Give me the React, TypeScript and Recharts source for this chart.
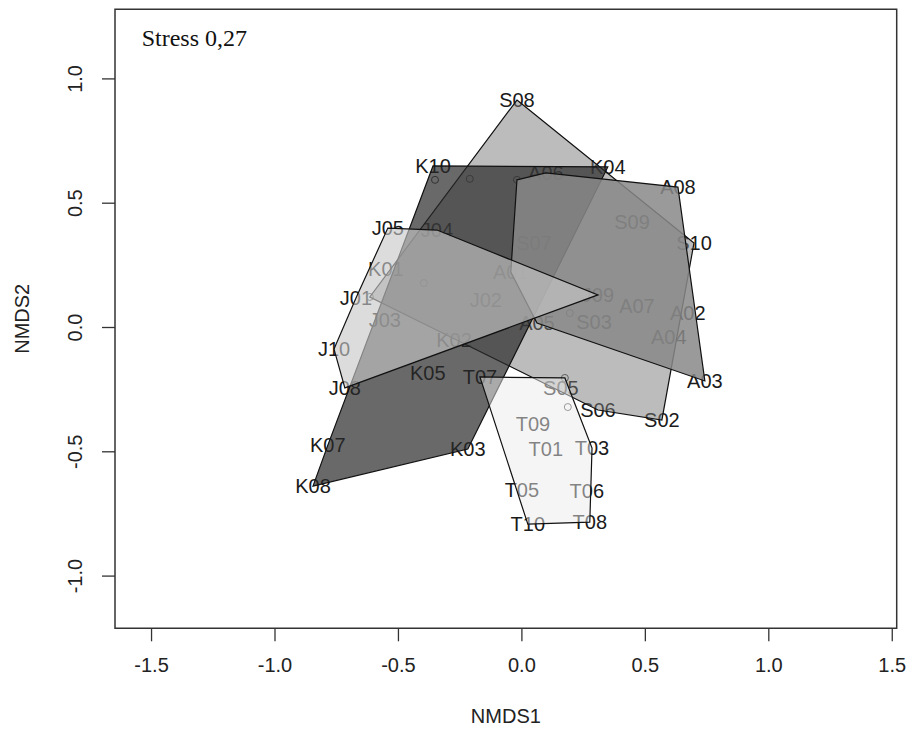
import { ScatterChart, Scatter, XAxis, YAxis, ReferenceArea, Label } from "recharts";

// NMDS site scores, one array per group
const sitesA = [
  { id: "A01", x: -0.045, y: 0.223 },
  { id: "A02", x: 0.672, y: 0.058 },
  { id: "A03", x: 0.741, y: -0.215 },
  { id: "A04", x: 0.595, y: -0.038 },
  { id: "A05", x: 0.061, y: 0.018 },
  { id: "A06", x: 0.097, y: 0.622 },
  { id: "A07", x: 0.466, y: 0.087 },
  { id: "A08", x: 0.632, y: 0.565 },
  { id: "A09", x: -0.02, y: 0.594 }
];
const sitesJ = [
  { id: "J01", x: -0.672, y: 0.119 },
  { id: "J02", x: -0.146, y: 0.111 },
  { id: "J03", x: -0.555, y: 0.03 },
  { id: "J04", x: -0.344, y: 0.392 },
  { id: "J05", x: -0.543, y: 0.4 },
  { id: "J06", x: -0.397, y: 0.179 },
  { id: "J08", x: -0.717, y: -0.243 },
  { id: "J09", x: 0.308, y: 0.131 },
  { id: "J10", x: -0.761, y: -0.087 }
];
const sitesK = [
  { id: "K01", x: -0.551, y: 0.235 },
  { id: "K02", x: -0.275, y: -0.05 },
  { id: "K03", x: -0.219, y: -0.489 },
  { id: "K04", x: 0.348, y: 0.646 },
  { id: "K05", x: -0.381, y: -0.183 },
  { id: "K06", x: -0.211, y: 0.598 },
  { id: "K07", x: -0.786, y: -0.473 },
  { id: "K08", x: -0.846, y: -0.638 },
  { id: "K09", x: -0.352, y: 0.594 },
  { id: "K10", x: -0.36, y: 0.65 }
];
const sitesS = [
  { id: "S01", x: -0.616, y: 0.123 },
  { id: "S02", x: 0.567, y: -0.372 },
  { id: "S03", x: 0.292, y: 0.022 },
  { id: "S04", x: 0.194, y: 0.058 },
  { id: "S05", x: 0.158, y: -0.243 },
  { id: "S06", x: 0.308, y: -0.332 },
  { id: "S07", x: 0.049, y: 0.34 },
  { id: "S08", x: -0.02, y: 0.915 },
  { id: "S09", x: 0.446, y: 0.425 },
  { id: "S10", x: 0.697, y: 0.34 }
];
const sitesT = [
  { id: "T01", x: 0.097, y: -0.489 },
  { id: "T02", x: 0.186, y: -0.32 },
  { id: "T03", x: 0.284, y: -0.485 },
  { id: "T04", x: 0.174, y: -0.203 },
  { id: "T05", x: 0.0, y: -0.654 },
  { id: "T06", x: 0.263, y: -0.658 },
  { id: "T07", x: -0.17, y: -0.199 },
  { id: "T08", x: 0.275, y: -0.783 },
  { id: "T09", x: 0.045, y: -0.388 },
  { id: "T10", x: 0.024, y: -0.791 }
];

// hull vertices, in drawing order
const hullA = ["A09", "A06", "A08", "A03", "A05", "A01"];
const hullJ = ["J05", "J04", "J09", "J08", "J10", "J01"];
const hullK = ["K10", "K04", "K03", "K08", "K07"];
const hullS = ["S08", "S10", "S02", "S06", "S01"];
const hullT = ["T07", "T04", "T03", "T08", "T10"];

// sites drawn as a point because their label would overlap (orditorp)
const pointOnly = ["J06", "K06", "K09", "S01", "S04", "T02", "T04", "A09"];

const xTicks = [-1.5, -1.0, -0.5, 0.0, 0.5, 1.0, 1.5];
const yTicks = [-1.0, -0.5, 0.0, 0.5, 1.0];
const xDomain = [-1.648, 1.518];
const yDomain = [-1.21, 1.28];

const allSites = [...sitesA, ...sitesJ, ...sitesK, ...sitesS, ...sitesT];
const labelled = allSites.filter((s) => !pointOnly.includes(s.id));
const unlabelled = allSites.filter((s) => pointOnly.includes(s.id));

function hullData(sites: Array<{ id: string; x: number; y: number }>, order: string[]) {
  return order.map((id) => sites.find((s) => s.id === id)!);
}

const sansFont = "'Liberation Sans', Arial, sans-serif";

function hullShape(fill: string, opacity: number) {
  return (props: any) => {
    const pts = (props.points || []).map((p: any) => `${p.x},${p.y}`).join(" ");
    return <polygon points={pts} fill={fill} fillOpacity={opacity} stroke="#111" strokeWidth={1.2} />;
  };
}

function SiteLabel(props: any) {
  const { cx, cy, payload } = props;
  return (
    <text x={cx} y={cy} dy={7} textAnchor="middle" fontSize={20} fontFamily={sansFont} fill="#1a1a1a">
      {payload.id}
    </text>
  );
}

function SitePoint(props: any) {
  return <circle cx={props.cx} cy={props.cy} r={3.5} fill="none" stroke="#444" strokeWidth={1} />;
}

function XTick({ x, y, payload }: any) {
  return (
    <text x={x} y={y + 31} textAnchor="middle" fontSize={20} fontFamily={sansFont} fill="#222">
      {Number(payload.value).toFixed(1)}
    </text>
  );
}

function YTick({ x, y, payload }: any) {
  const bx = x - 20;
  return (
    <text x={bx} y={y} transform={`rotate(-90, ${bx}, ${y})`} textAnchor="middle" fontSize={20} fontFamily={sansFont} fill="#222">
      {Number(payload.value).toFixed(1)}
    </text>
  );
}

const noShape = () => <g />;

export default function App() {
  return (
    <div style={{ position: "absolute", left: 0, top: 0, background: "#fff" }}>
      <ScatterChart width={909} height={737} margin={{ top: 9.3, right: 12.3, bottom: 48.7, left: 55 }}>
        <XAxis
          type="number"
          dataKey="x"
          domain={xDomain}
          allowDataOverflow
          ticks={xTicks}
          interval={0}
          tickSize={13}
          tickMargin={0}
          axisLine={false}
          tickLine={{ stroke: "#333", strokeWidth: 1.3 }}
          tick={<XTick />}
          height={60}
        >
          <Label
            content={({ viewBox }: any) => (
              <text x={viewBox.x + viewBox.width / 2} y={viewBox.y + 95} textAnchor="middle" fontSize={20} fontFamily={sansFont} fill="#222">
                NMDS1
              </text>
            )}
          />
        </XAxis>
        <YAxis
          type="number"
          dataKey="y"
          domain={yDomain}
          allowDataOverflow
          ticks={yTicks}
          interval={0}
          tickSize={13}
          tickMargin={0}
          axisLine={false}
          tickLine={{ stroke: "#333", strokeWidth: 1.3 }}
          tick={<YTick />}
          width={60}
        >
          <Label
            content={({ viewBox }: any) => {
              const cx = 29;
              const cy = viewBox.y + viewBox.height / 2;
              return (
                <text x={cx} y={cy} transform={`rotate(-90, ${cx}, ${cy})`} textAnchor="middle" fontSize={20} fontFamily={sansFont} fill="#222">
                  NMDS2
                </text>
              );
            }}
          />
        </YAxis>

        <Scatter data={labelled} shape={SiteLabel} isAnimationActive={false} />
        <Scatter data={unlabelled} shape={SitePoint} isAnimationActive={false} />

        <Scatter data={hullData(sitesS, hullS)} shape={noShape} line={hullShape("#7a7a7a", 0.5)} isAnimationActive={false} />
        <Scatter data={hullData(sitesK, hullK)} shape={noShape} line={hullShape("#2a2a2a", 0.7)} isAnimationActive={false} />
        <Scatter data={hullData(sitesA, hullA)} shape={noShape} line={hullShape("#888888", 0.85)} isAnimationActive={false} />
        <Scatter data={hullData(sitesJ, hullJ)} shape={noShape} line={hullShape("#c8c8c8", 0.63)} isAnimationActive={false} />
        <Scatter data={hullData(sitesT, hullT)} shape={noShape} line={hullShape("#ebebeb", 0.5)} isAnimationActive={false} />

        <ReferenceArea
          x1={xDomain[0]}
          x2={xDomain[1]}
          y1={yDomain[0]}
          y2={yDomain[1]}
          fill="none"
          stroke="#333"
          strokeWidth={1.5}
        >
          <Label
            content={({ viewBox }: any) => (
              <text x={viewBox.x + 26.7} y={viewBox.y + 36.4} fontSize={24} fontFamily="'Liberation Serif', 'Times New Roman', serif" fill="#111">
                Stress 0,27
              </text>
            )}
          />
        </ReferenceArea>
      </ScatterChart>
    </div>
  );
}
